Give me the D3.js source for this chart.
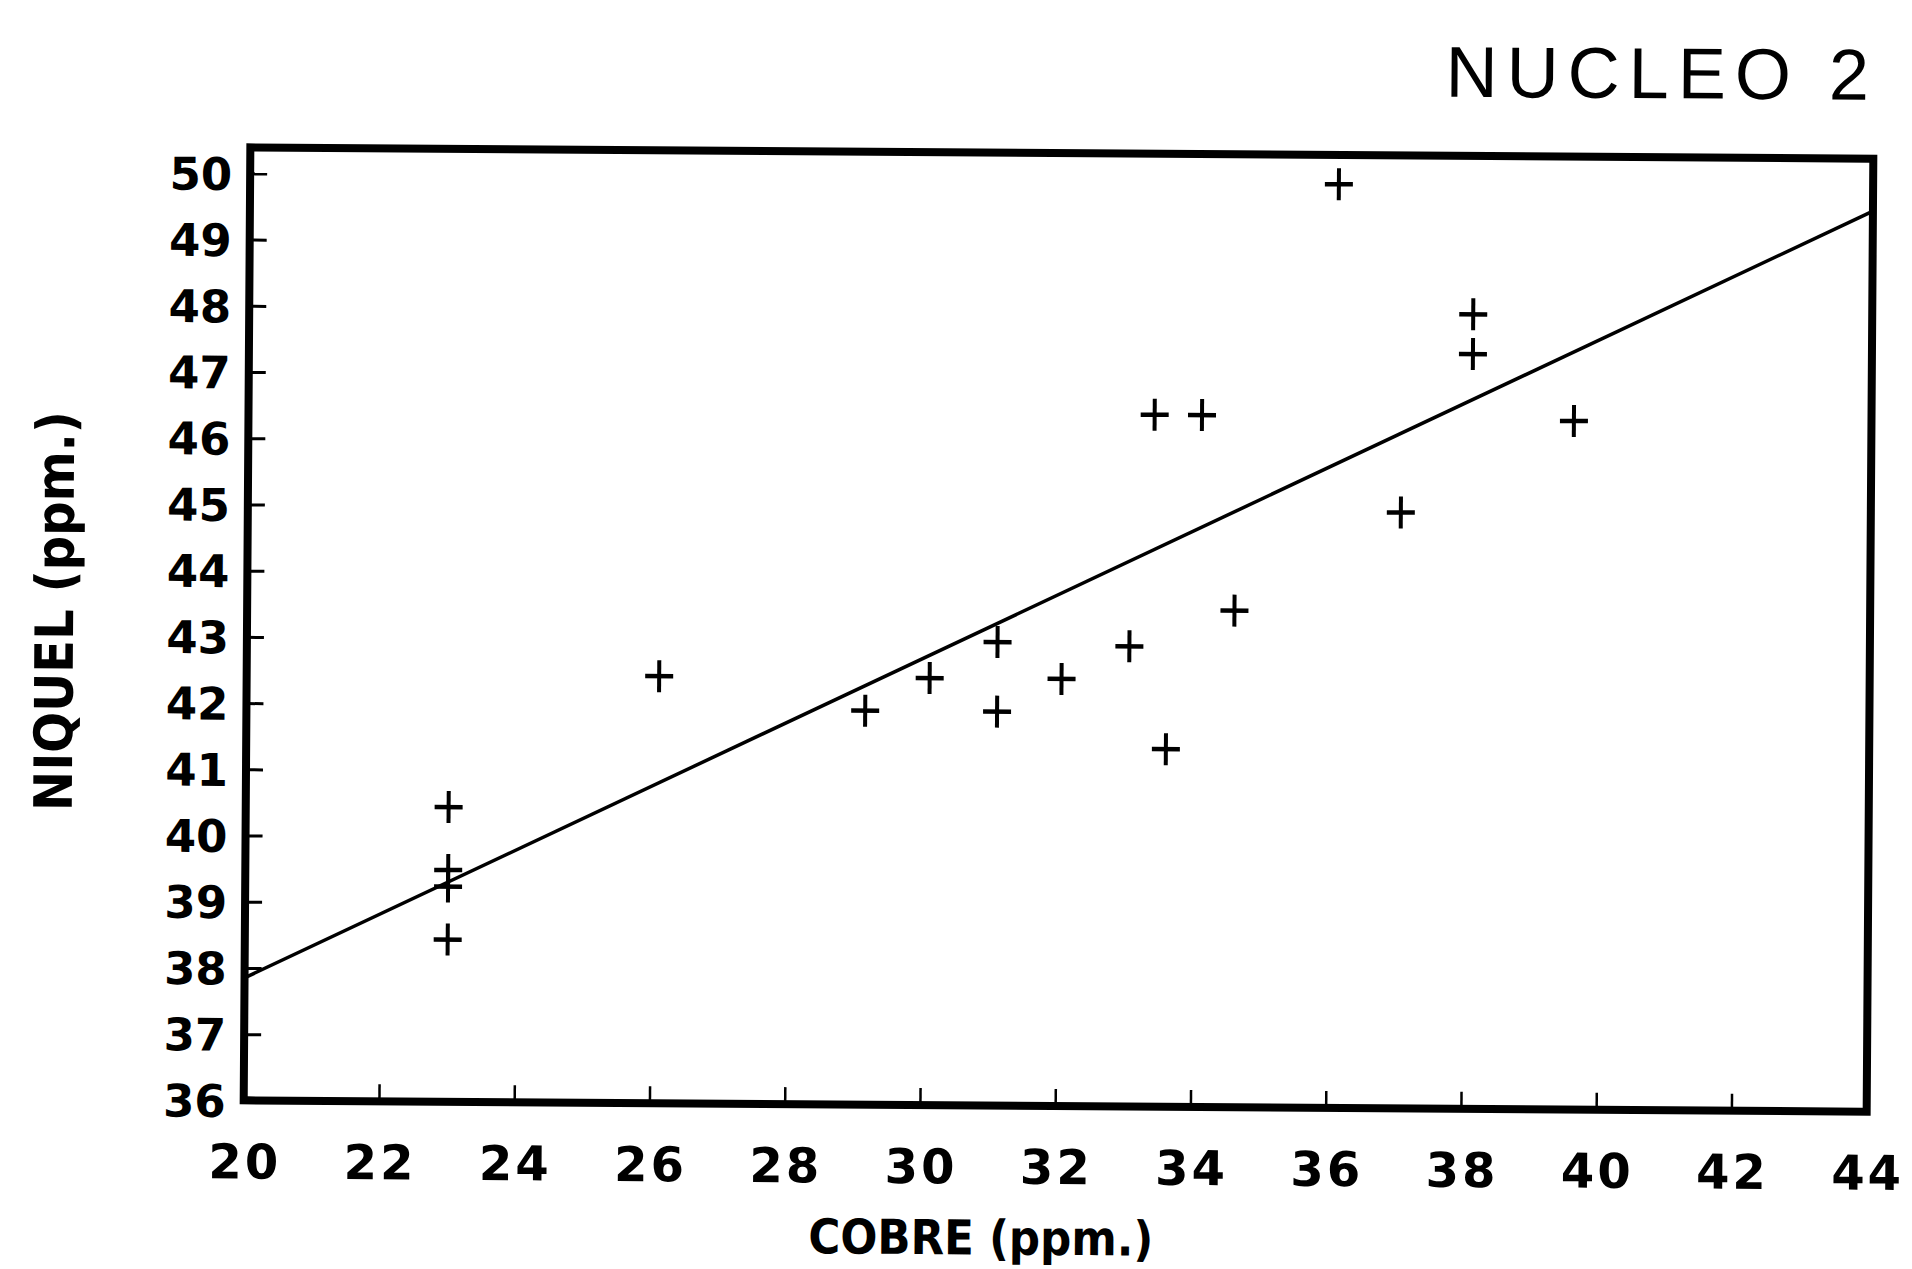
<!DOCTYPE html>
<html>
<head>
<meta charset="utf-8">
<script src="https://cdn.jsdelivr.net/npm/d3@7"></script>
<style>
  body { margin: 0; background: #fff; }
  svg { display: block; }
</style>
</head>
<body>
<div id="chart"></div>
<script>
// Niquel vs Cobre, nucleo 2
var cobre  = [36.1, 38.1, 38.1, 33.4, 34.1, 39.6, 37.05, 34.6, 33.05, 31.1,
              31.1, 32.05, 30.1, 29.15, 33.6, 26.1, 23.0, 23.0, 23.0, 23.0];
var niquel = [49.95, 48.0, 47.4, 46.45, 46.45, 46.4, 45.0, 43.5, 42.95, 43.0,
              41.95, 42.45, 42.45, 41.95, 41.4, 42.45, 40.45, 39.5, 39.25, 38.45];

// fitted line, end points as drawn
var fitX = [20, 44];
var fitY = [37.85, 49.6];

var xTicks = [20, 22, 24, 26, 28, 30, 32, 34, 36, 38, 40, 42, 44];
var yTicks = [36, 37, 38, 39, 40, 41, 42, 43, 44, 45, 46, 47, 48, 49, 50];

var W = 1912, H = 1269;
var plotL = 247, plotR = 1870, plotT = 153, plotB = 1106;

var svg = d3.select("#chart").append("svg")
    .attr("width", W)
    .attr("height", H);

// the scan is a little tilted
var g = svg.append("g")
    .attr("transform", "rotate(0.4, 1056, 630)");

var x = d3.scaleLinear().domain([20, 44]).range([plotL, plotR]);
var y = d3.scaleLinear().domain([36, 50]).range([plotB, 179]);

var labelFont = "'DejaVu Sans', sans-serif";

// x axis ticks point up into the plot
var xAxis = g.append("g")
    .attr("transform", "translate(0," + plotB + ")")
    .call(d3.axisBottom(x).tickValues(xTicks).tickSizeInner(-17).tickSizeOuter(0).tickPadding(44)
        .tickFormat(d3.format("d")));
xAxis.select(".domain").remove();
xAxis.selectAll("line").attr("stroke", "#000").attr("stroke-width", 2.5);
xAxis.selectAll("text")
    .attr("font-family", labelFont)
    .attr("font-weight", "bold")
    .attr("font-size", 48)
    .attr("letter-spacing", 3)
    .attr("dx", 1)
    .attr("fill", "#000");

var yAxis = g.append("g")
    .attr("transform", "translate(" + plotL + ",0)")
    .call(d3.axisLeft(y).tickValues(yTicks).tickSizeInner(-17).tickSizeOuter(0).tickPadding(18)
        .tickFormat(d3.format("d")));
yAxis.select(".domain").remove();
yAxis.selectAll("line").attr("stroke", "#000").attr("stroke-width", 3);
yAxis.selectAll("text")
    .attr("font-family", labelFont)
    .attr("font-weight", "bold")
    .attr("font-size", 45)
    .attr("dy", "0.36em")
    .attr("fill", "#000");

// frame
g.append("rect")
    .attr("x", plotL)
    .attr("y", plotT)
    .attr("width", plotR - plotL)
    .attr("height", plotB - plotT)
    .attr("fill", "none")
    .attr("stroke", "#000")
    .attr("stroke-width", 8);

// regression line
var fit = fitX.map(function(d, i) { return [d, fitY[i]]; });
g.append("path")
    .datum(fit)
    .attr("fill", "none")
    .attr("stroke", "#000")
    .attr("stroke-width", 3.5)
    .attr("d", d3.line().x(function(d) { return x(d[0]); }).y(function(d) { return y(d[1]); }));

// points drawn as plus signs
var pts = cobre.map(function(d, i) { return { cu: d, ni: niquel[i] }; });
var cross = g.selectAll(".pt")
    .data(pts)
    .enter().append("g")
    .attr("class", "pt")
    .attr("transform", function(d) { return "translate(" + x(d.cu) + "," + y(d.ni) + ")"; });
cross.append("line")
    .attr("x1", -14).attr("x2", 14).attr("y1", 0).attr("y2", 0)
    .attr("stroke", "#000").attr("stroke-width", 4.5);
cross.append("line")
    .attr("x1", 0).attr("x2", 0).attr("y1", -16).attr("y2", 16)
    .attr("stroke", "#000").attr("stroke-width", 4);

// titles
g.append("text")
    .attr("x", 1874)
    .attr("y", 94)
    .attr("text-anchor", "end")
    .attr("font-family", "'Liberation Sans', Arial, sans-serif")
    .attr("font-size", 72)
    .attr("letter-spacing", 9)
    .attr("fill", "#000")
    .text("NUCLEO 2");

g.append("text")
    .attr("x", 985)
    .attr("y", 1255)
    .attr("text-anchor", "middle")
    .attr("font-family", labelFont)
    .attr("font-weight", "bold")
    .attr("font-size", 48)
    .attr("textLength", 345)
    .attr("lengthAdjust", "spacingAndGlyphs")
    .attr("fill", "#000")
    .text("COBRE (ppm.)");

g.append("text")
    .attr("transform", "translate(73,618) rotate(-90)")
    .attr("text-anchor", "middle")
    .attr("font-family", labelFont)
    .attr("font-weight", "bold")
    .attr("font-size", 53)
    .attr("textLength", 400)
    .attr("lengthAdjust", "spacingAndGlyphs")
    .attr("fill", "#000")
    .text("NIQUEL (ppm.)");
</script>
</body>
</html>
